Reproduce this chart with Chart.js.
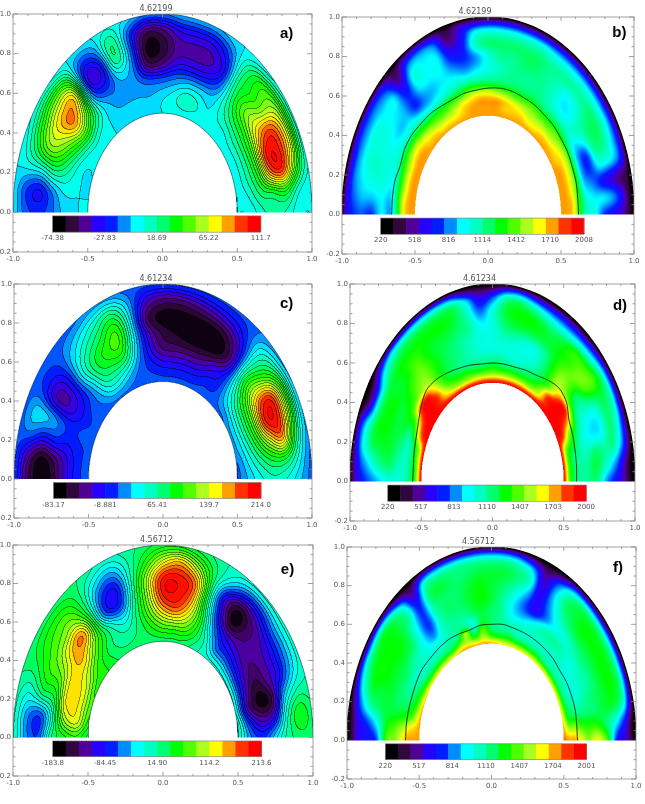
<!DOCTYPE html>
<html>
<head>
<meta charset="utf-8">
<title>Mantle convection snapshots</title>
<script src="https://cdn.jsdelivr.net/npm/chart.js@4"></script>
<style>
    html, body { margin: 0; background: #fff; }
    #page { position: relative; width: 645px; height: 804px; overflow: hidden; }
    canvas { position: absolute; }
</style>
</head>
<body>
<div id="page"></div>
<script>
// Radii of the polar grid, inner wall to outer wall
const flowRadii = [0.5, 0.58, 0.67, 0.75, 0.83, 0.92, 1.0];
const tempRadii = [0.5, 0.54, 0.58, 0.62, 0.67, 0.73, 0.8, 0.87, 0.93, 0.97, 1.0];

// Each row runs from theta = 180 (left) to theta = 0 (right).
// Numbers are colour table positions, 0 = low end of the bar, 15 = high end.
const flowA = [
    [6,6,6,6,6,6,6,6,6,6,6,6,6,6,6,6,6,6,6,6,6,6,6,6,6],
    [6,6,6,6,6.5,7,6.5,6,5.5,5.5,5.5,5.5,6,6.5,7.5,7,6,6.5,6.5,7,7,7,7,6.5,6],
    [5.5,6,7,8,9.5,11,9,6,5,5,5,4.5,4.5,5,5.5,5.5,5.5,7,8.5,9,9.5,9.5,9,8,7],
    [4.5,4.5,7.5,10,11.5,14,11,4,3.5,6,5,1,1.5,3,3,3,4,7.5,10,11.5,13,15,13.5,8,7.5],
    [4,3,6.5,10.5,12,13,13,2.5,2.5,8.5,5,0,0.5,2,2,2,3,8,9,10.5,14.5,15,15,9,7],
    [4.5,4,6.5,8,9,10,9.5,4,4.5,8.5,4.5,1,1.5,3,3,3,4.5,7.5,9.5,10.5,11.5,12,10,6.5,6],
    [6,6,6,6,6.5,6.5,6,6,6,6.5,6,5,5,5.5,5.5,5.5,6,6,6,6.5,6.5,6.5,6.5,6,6]
];
const flowC = [
    [4.5,4.5,4.5,4.5,4.5,4.5,4.5,4.5,4.5,4.5,4.5,4.5,4.5,4.5,4.5,4.5,4.5,4.5,4.5,4.5,5,5,5,4.5,4.5],
    [4,4,4,4.5,4,4.5,5,6.5,6.5,5.5,4.5,4,3.5,3.5,3.5,3.5,4,4,5.5,6.5,7,7,6.5,6,5.5],
    [2.5,2.5,3.5,4,3,3.5,5.5,8,8.5,8.5,5.5,3,1.5,1.5,1.5,1.5,2.5,3.5,6.5,9,10,10,9,7.5,6.5],
    [0.5,1,4,5,2,3,6.5,8.5,9.5,10,6,2.5,1,0.5,0,0,0,2,7.5,11,14,15,11.5,8.5,7],
    [0,0,3.5,6,2,3,6,7.5,8.5,10,6,1,0,0,0,0,0.5,2.5,7,10,15,15,14,8.5,6.5],
    [1.5,2,5,6,4,4,5,6,7,8,5.5,2.5,1.5,1.5,2,2.5,3,4,6.5,8,10,10,8,6.5,5.5],
    [4.5,4.5,4.5,4.5,4.5,4.5,4.5,4.5,5,5,4.5,4.5,4.5,4.5,4.5,4.5,4.5,4.5,5,5,5,5,5,4.5,4.5]
];
const flowE = [
    [8,9,9.5,9.5,9,9,9,8.5,8,8,8,8,8,8,8,7.5,7,7,7,7,7,7,7,7.5,7.5],
    [9.5,12,12,12,11.5,10,9,8,7.5,7.5,8,9,10,10,10,8.5,7,4.5,4.5,4,3.5,3,2,4,5],
    [8.5,11,12.5,12.5,12.5,13,11,9,7,6,8,10.5,13,14,12,9,5,3,2.5,2,1.5,0.5,0,2,4],
    [8,6.5,8,9.5,11,13,14,8.5,3.5,3.5,7.5,11,15,15,13.5,8,3.5,0,1.5,2,2,2,0.5,3,6],
    [4,3.5,8,9.5,10,10.5,11,8,4,3,7,11,15,15,14,8,2.5,0,1.5,2.5,3,3,5.5,7,7.5],
    [5,5,6.5,8,9,9.5,9.5,8,6,5,7,9,11.5,13,10.5,8,6,4,4,5,5,5.5,7.5,9.5,8],
    [7.5,7.5,7.5,8,8,8,8,8,7.5,7,7.5,8,8.5,8.5,8,7.5,7,7,7,7,7,7,7.5,8,8]
];
const tempB = [
    [13,13,13,13,13,13,13,13,13,13,13,13,13,13,13,13,13,13,13,13,13,13,13,13,13,13,13,13,13,13,13],
    [13,13,13,13,13,13,13,12.5,12.5,12,12,12,12.5,13,13,13,13,12.5,12.5,12.5,12,12,12.5,12.5,12.5,12.5,13,13,13,13,13],
    [12,12,11.5,11.5,11.5,12,12,11.5,11,10.5,10.5,11,12,12.5,13,13,13,12.5,12,11.5,11,11,11,11,11.5,12,12,12,12,12.5,12.5],
    [8.5,9,9,9,9.5,10,10,9.5,9,9,9,9.5,10,11,11.5,11.5,11,10.5,10,10,10,9.5,9.5,10,10,10,10,10,10,10,10],
    [5,5.5,6,6.5,7,7,7,7,6.5,6,6.5,7,7.5,8,8,8,8,8,8,8,8,7.5,7.5,7.5,7,6,5.5,5.5,6,7,7],
    [6,6,6.5,6.5,6.5,6,5.5,5.5,4,5,5.5,6,6,5.5,6,6.5,7,7.5,7.5,7.5,7.5,7,6,6,7,6,4,4,5,6,6.5],
    [4,5.5,6.5,7,6.5,6.5,6,5.5,4,6,6,6,4.5,4,5,6.5,7.5,7.5,8,8,7.5,7,6,6.5,7.5,8,7.5,6,3.5,6,4],
    [4.5,5.5,6,6.5,6.5,6.5,6,6,3,6.5,6,6,3,3.5,7,8,8,8,8,8,7.5,7.5,7.5,7.5,8,8,7.5,6,2.5,5,3],
    [4,4.5,5,5,5,5,5,4.5,1.5,5,5.5,5,1.5,3,6,6.5,6.5,6.5,6.5,6.5,6,6,6,6,6,6,5.5,5,1.5,3,2],
    [3,3,3,3,3.5,3.5,3.5,3,1,3,3.5,3,1,2.5,3,3.5,3.5,3.5,3.5,3.5,3.5,3.5,3.5,3.5,3.5,3.5,3.5,3,1,1,1],
    [0.5,0.5,0.5,0.5,0.5,0.5,0.5,0.5,0,0.5,0.5,0.5,0,0.5,0.5,0.5,0.5,0.5,0.5,0.5,0.5,0.5,0.5,0.5,0.5,0.5,0.5,0.5,0,0,0]
];
const tempD = [
    [15,15,15,15,15,15,15,15,15,15,15,15,15,15,15,15,15,15,15,15,15,15,15,15,15,15,15,15,15,15,15],
    [10,10,10.5,11,14,15,15,15,14,12.5,11.5,11,11,11,11,11,11,11,11,11,11,12,14,15,15,15,14,10.5,10,10,10],
    [8,8,8,8.5,11,13,15,15,14,11,9.5,9,9,8.5,8.5,9,8.5,8.5,8.5,8.5,9,10.5,14,15,15,14,11,9,8,8,8],
    [7,7,7,7,8,10,14,15,12.5,10,8.5,8,7.5,7.5,7.5,7.5,7.5,7,7,7.5,8,9,11,14,15,12,9,8,7.5,7.5,7.5],
    [6.5,7,7.5,8,8.5,9,10,11,11,9.5,8.5,8,7.5,7,6.5,6.5,6.5,6.5,6.5,6.5,7.5,9,11,11,9.5,8,7,6.5,7,7.5,7.5],
    [6.5,8,8.5,8.5,8.5,8.5,9,10,10.5,9.5,8.5,8,7.5,7,6.5,6.5,7,7,6.5,6.5,7.5,9,10.5,10,8,7,6,6,8,8.5,8],
    [5.5,7.5,8.5,9,9,9,8.5,9,10,9,8.5,8.5,8,7.5,6,6.5,8,8.5,8.5,8.5,8.5,9,9.5,10.5,10,7.5,6,6,7.5,7,5],
    [4.5,6,8,8.5,8,8,8.5,9,9,9,9,9,8.5,7,4.5,6.5,8.5,9,9,8.5,8,8.5,9.5,9.5,10,8.5,8,8,7.5,5,3.5],
    [3.5,4.5,6,6,3.5,3.5,6.5,7.5,8,8,8,8,8,6,3,4.5,7.5,8,7,6,5.5,5.5,6,6.5,7.5,7.5,7,6,5,2.5,2],
    [2,2.5,3.5,3.5,1,1,3.5,5,5,5,5,5,4.5,2.5,1.5,2,4,4.5,3.5,3,3,3,3,3.5,4,4,3.5,3,2,0.5,0.5],
    [0.5,0.5,0.5,0.5,0,0,0.5,0.5,0.5,0.5,0.5,0.5,0.5,0,0,0,0.5,0.5,0.5,0,0,0,0,0.5,0.5,0.5,0.5,0,0,0,0]
];
const tempF = [
    [13,13,13,13,12.5,12.5,12,12,12,12,12.5,13,13,13,13,13,12.5,12,12,12,12,12,12,12,12,12,12,12,12.5,13,13.5],
    [13,12.5,11,10,9.5,9,8.5,8.5,8.5,8.5,8.5,10,11,9.5,11,9.5,9,9,8.5,8.5,8.5,8.5,8,8,8,8,8,8.5,9,11,13],
    [13,12,9.5,8.5,8,7.5,7,7,7,7,7.5,7.5,11,7,10,8,7.5,7.5,7,7,7,7,7,7,7,7,7,7.5,8.5,11,13],
    [12,11,9,8,7.5,7,7,7,6.5,6.5,7,7.5,7.5,6.5,8.5,8,7.5,7,7,7,7,7,7,7,6.5,6.5,6.5,7,8,10,12],
    [10.5,10,8.5,8,8,8,7.5,7,6,5,7,7.5,7.5,8,8.5,8,7.5,6,5.5,6,7,7.5,7.5,7,6.5,7,7,7.5,8,9.5,10.5],
    [10,9,8.5,8.5,8.5,8.5,8.5,8,6,4,7,8,8,8.5,9,8.5,7.5,6,4.5,3,4.5,6,6.5,7,7.5,7.5,7.5,8,8,9.5,12],
    [4,6,8,8.5,9,9,9,8.5,6.5,4,7.5,8,8,8.5,9,8.5,8,7,5.5,3,5,7,8,8.5,8.5,8.5,8.5,8.5,8.5,8,10],
    [3.5,4,7,8.5,9,9,9,8.5,7.5,3.5,8,8.5,8,8,8.5,8.5,8.5,8,7,2.5,5.5,8,8.5,9,9,9,9,9,8.5,6,3.5],
    [3,3,4.5,6.5,7.5,8,8.5,8,6,2,7,7.5,7.5,7.5,7.5,7.5,7.5,7,5.5,2,4.5,7,8,8,8,8,8,8,7,3.5,2.5],
    [1,1,2,3.5,4.5,4.5,5,4.5,2.5,1,4,4.5,4.5,4.5,4.5,4.5,4.5,4,2.5,1,2,4,4.5,4.5,4.5,4.5,4.5,4.5,3.5,1,1],
    [0,0,0,0.5,0.5,0.5,0.5,0.5,0,0,0.5,0.5,0.5,0.5,0.5,0.5,0.5,0.5,0,0,0,0.5,0.5,0.5,0.5,0.5,0.5,0.5,0.5,0,0]
];

// Radius of the dark boundary curve every 7.5 degrees, left to right
const boundaryB = [.66,.66,.66,.65,.66,.66,.65,.645,.635,.63,.635,.635,.64,.645,.645,.64,.64,.635,.635,.63,.63,.625,.625,.62,.62];
const boundaryD = [.56,.56,.57,.58,.60,.63,.655,.65,.635,.62,.61,.60,.60,.60,.60,.61,.62,.645,.665,.655,.62,.61,.60,.595,.59];
const boundaryF = [.595,.595,.595,.595,.60,.605,.60,.60,.60,.595,.59,.60,.60,.605,.60,.60,.60,.60,.60,.595,.60,.60,.60,.595,.595];

// Colour bar text
const barA = ['-74.38', '-27.83', '18.69', '65.22', '111.7'];
const barB = ['220', '518', '816', '1114', '1412', '1710', '2008'];
const barC = ['-83.17', '-8.881', '65.41', '139.7', '214.0'];
const barD = ['220', '517', '813', '1110', '1407', '1703', '2000'];
const barE = ['-183.8', '-84.45', '14.90', '114.2', '213.6'];
const barF = ['220', '517', '814', '1110', '1407', '1704', '2001'];

// The sixteen colours of the table
const palette = [
    [0,0,0], [48,8,60], [80,0,150], [40,0,255], [0,30,255], [0,140,255], [0,255,255], [0,255,195],
    [0,255,110], [0,255,0], [80,255,0], [170,255,30], [255,255,0], [255,160,0], [255,50,0], [255,0,0]
];
const arcAngles = [];
for (let a = 180; a >= 0; a -= 3) arcAngles.push(a);

const panels = [
    { letter: 'a)', title: '4.62199', rows: flowA, radii: flowRadii, bar: barA, box: [13, 14, 312, 252], mark: [0.83, 0.90], contour: true },
    { letter: 'b)', title: '4.62199', rows: tempB, radii: tempRadii, bar: barB, box: [342, 17, 634, 254], mark: [0.90, 0.92], boundary: boundaryB },
    { letter: 'c)', title: '4.61234', rows: flowC, radii: flowRadii, bar: barC, box: [14, 284, 312, 518], mark: [0.83, 0.90], contour: true },
    { letter: 'd)', title: '4.61234', rows: tempD, radii: tempRadii, bar: barD, box: [350, 284, 635, 521], mark: [0.895, 0.89], boundary: boundaryD },
    { letter: 'e)', title: '4.56712', rows: flowE, radii: flowRadii, bar: barE, box: [13, 545, 313, 776], mark: [0.83, 0.87], contour: true },
    { letter: 'f)', title: '4.56712', rows: tempF, radii: tempRadii, bar: barF, box: [347, 547, 636, 779], mark: [0.875, 0.89], boundary: boundaryF }
];

const TEXT_FONT = '7px "DejaVu Sans"';

// Cubic through four neighbours; soft blends in a B-spline to calm the curve
function spline(a, b, c, d, t, soft) {
    const cr = b + 0.5 * t * (c - a + t * (2 * a - 5 * b + 4 * c - d + t * (3 * (b - c) + d - a)));
    const u = 1 - t;
    const bs = (u * u * u * a + (3 * t * t * t - 6 * t * t + 4) * b + (-3 * t * t * t + 3 * t * t + 3 * t + 1) * c + t * t * t * d) / 6;
    return cr + (bs - cr) * soft;
}

function sampleField(rows, radii, r, theta, soft) {
    let i = 0;
    while (i < radii.length - 2 && r > radii[i + 1]) i++;
    const tr = (r - radii[i]) / (radii[i + 1] - radii[i]);
    const n = rows[0].length - 1;
    const pos = (180 - theta) / 180 * n;
    const j = Math.min(Math.floor(pos), n - 1);
    const tc = pos - j;
    const vals = [];
    for (let k = i - 1; k <= i + 2; k++) {
        const row = rows[Math.max(0, Math.min(rows.length - 1, k))];
        vals.push(spline(row[Math.max(0, j - 1)], row[j], row[j + 1], row[Math.min(n, j + 2)], tc, soft));
    }
    return Math.max(0, Math.min(15, spline(vals[0], vals[1], vals[2], vals[3], tr, soft)));
}

function levelColor(v) {
    const i = Math.min(14, Math.floor(v));
    const t = v - i;
    const a = palette[i], b = palette[i + 1];
    return [a[0] + (b[0] - a[0]) * t, a[1] + (b[1] - a[1]) * t, a[2] + (b[2] - a[2]) * t];
}

// Paints the field inside the half ring, inverting the chart's own scales per pixel
const fieldPlugin = {
    id: 'field',
    beforeDatasetsDraw(chart) {
        const panel = chart.config.options.panel;
        const area = chart.chartArea;
        const xs = chart.scales.x, ys = chart.scales.y;
        const SS = 2;
        const w = Math.ceil(area.width) * SS, h = Math.ceil(area.height) * SS;
        const off = document.createElement('canvas');
        off.width = w; off.height = h;
        const octx = off.getContext('2d');
        const img = octx.createImageData(w, h);
        const step = 0.6;
        const soft = panel.contour ? 0.5 : 0.15;
        const bands = new Float32Array(w * h).fill(-1);
        for (let py = 0; py < h; py++) {
            const y = ys.getValueForPixel(area.top + (py + 0.5) / SS);
            if (y < 0) continue;
            for (let px = 0; px < w; px++) {
                const x = xs.getValueForPixel(area.left + (px + 0.5) / SS);
                const r = Math.hypot(x, y);
                if (r < 0.5 || r > 1) continue;
                const theta = Math.atan2(y, x) * 180 / Math.PI;
                let v = sampleField(panel.rows, panel.radii, r, theta, soft);
                if (panel.contour) {
                    const band = Math.floor(v / step);
                    bands[py * w + px] = band;
                    v = Math.min(15, (band + 0.5) * step);
                }
                const c = levelColor(v);
                const o = (py * w + px) * 4;
                img.data[o] = c[0]; img.data[o + 1] = c[1]; img.data[o + 2] = c[2]; img.data[o + 3] = 255;
            }
        }
        if (panel.contour) {
            // contour lines sit where the banded value changes between neighbours
            for (let py = 0; py < h - 1; py++) {
                for (let px = 0; px < w - 1; px++) {
                    const q = py * w + px;
                    if (bands[q] < 0) continue;
                    const right = bands[q + 1], below = bands[q + w];
                    if ((right >= 0 && right !== bands[q]) || (below >= 0 && below !== bands[q])) {
                        const o = q * 4;
                        img.data[o] *= 0.15; img.data[o + 1] *= 0.15; img.data[o + 2] *= 0.15;
                    }
                }
            }
        }
        octx.putImageData(img, 0, 0);
        chart.ctx.drawImage(off, area.left, area.top, w / SS, h / SS);
    }
};

// Box with inward ticks on all four sides, the colour bar and the panel letter
const framePlugin = {
    id: 'frame',
    afterDatasetsDraw(chart) {
        const panel = chart.config.options.panel;
        const ctx = chart.ctx;
        const area = chart.chartArea;
        const xs = chart.scales.x, ys = chart.scales.y;
        ctx.save();

        const x0 = xs.getPixelForValue(-0.735), x1 = xs.getPixelForValue(0.657);
        const y0 = ys.getPixelForValue(-0.018), y1 = ys.getPixelForValue(-0.10);
        const bandW = (x1 - x0) / 16;
        palette.forEach((c, i) => {
            ctx.fillStyle = `rgb(${c[0]},${c[1]},${c[2]})`;
            ctx.fillRect(x0 + i * bandW, y0, bandW + 0.5, y1 - y0);
        });
        ctx.strokeStyle = '#777';
        ctx.lineWidth = 0.6;
        ctx.strokeRect(x0, y0, x1 - x0, y1 - y0);

        ctx.font = TEXT_FONT;
        ctx.fillStyle = '#555';
        ctx.textAlign = 'center';
        ctx.textBaseline = 'middle';
        panel.bar.forEach((label, i) => {
            ctx.fillText(label, x0 + (x1 - x0) * i / (panel.bar.length - 1), ys.getPixelForValue(-0.132));
        });

        ctx.strokeStyle = '#8a8a8a';
        ctx.lineWidth = 0.8;
        ctx.strokeRect(area.left, area.top, area.width, area.height);
        ctx.beginPath();
        for (let i = -10; i <= 10; i++) {
            const px = xs.getPixelForValue(i / 10);
            const len = i % 5 === 0 ? 4 : 2;
            ctx.moveTo(px, area.bottom); ctx.lineTo(px, area.bottom - len);
            ctx.moveTo(px, area.top); ctx.lineTo(px, area.top + len);
        }
        for (let i = -4; i <= 20; i++) {
            const py = ys.getPixelForValue(i / 20);
            const len = i % 4 === 0 ? 5 : 2.5;
            ctx.moveTo(area.left, py); ctx.lineTo(area.left + len, py);
            ctx.moveTo(area.right, py); ctx.lineTo(area.right - len, py);
        }
        ctx.stroke();

        ctx.font = 'bold 15px "Liberation Sans"';
        ctx.fillStyle = '#000';
        ctx.fillText(panel.letter, xs.getPixelForValue(panel.mark[0]), ys.getPixelForValue(panel.mark[1]));
        ctx.restore();
    }
};

function polarLine(radius, angles) {
    return angles.map((a, i) => {
        const r = Array.isArray(radius) ? radius[i] : radius;
        return { x: r * Math.cos(a * Math.PI / 180), y: r * Math.sin(a * Math.PI / 180) };
    });
}

function gridNodes(panel) {
    const nodes = [];
    panel.rows.forEach((row, i) => {
        row.forEach((level, j) => {
            const a = (180 - 180 * j / (row.length - 1)) * Math.PI / 180;
            nodes.push({ x: panel.radii[i] * Math.cos(a), y: panel.radii[i] * Math.sin(a), level });
        });
    });
    return nodes;
}

function tickLabel(v) {
    return (Math.abs(v) < 1e-6 ? 0 : v).toFixed(1);
}

const page = document.getElementById('page');

panels.forEach(panel => {
    const [left, top, right, bottom] = panel.box;
    const marginL = Math.min(left, 26), marginR = 12, marginT = 12, marginB = 18;
    const canvas = document.createElement('canvas');
    canvas.width = right - left + marginL + marginR;
    canvas.height = bottom - top + marginT + marginB;
    canvas.style.left = (left - marginL) + 'px';
    canvas.style.top = (top - marginT) + 'px';
    page.appendChild(canvas);

    const lineStyle = { type: 'line', pointRadius: 0, fill: false, parsing: false };
    const datasets = [
        { type: 'scatter', label: 'field', data: gridNodes(panel), pointRadius: 0, showLine: false }
    ];
    if (panel.boundary) {
        const angles = panel.boundary.map((_, i) => 180 - 7.5 * i);
        datasets.push({ ...lineStyle, label: 'boundary', data: polarLine(panel.boundary, angles), borderColor: 'rgba(0,30,30,0.85)', borderWidth: 1, tension: 0.3 });
        datasets.push({ ...lineStyle, label: 'outer wall', data: polarLine(1, arcAngles), borderColor: '#000', borderWidth: 1.2 });
    } else {
        datasets.push({ ...lineStyle, label: 'outer wall', data: polarLine(1, arcAngles), borderColor: 'rgba(0,30,60,0.7)', borderWidth: 0.8 });
        datasets.push({ ...lineStyle, label: 'inner wall', data: polarLine(0.5, arcAngles), borderColor: 'rgba(0,30,60,0.7)', borderWidth: 0.8 });
    }

    new Chart(canvas, {
        type: 'scatter',
        data: { datasets },
        plugins: [fieldPlugin, framePlugin],
        options: {
            panel,
            responsive: false,
            animation: false,
            events: [],
            layout: { autoPadding: false, padding: { left: 0, right: marginR, top: 0, bottom: 0 } },
            plugins: {
                legend: { display: false },
                tooltip: { enabled: false },
                title: {
                    display: true,
                    text: panel.title,
                    color: '#555',
                    font: { family: 'DejaVu Sans', size: 8, weight: 'normal', lineHeight: 1.25 },
                    padding: { top: 2, bottom: 0 }
                }
            },
            scales: {
                x: {
                    type: 'linear',
                    min: -1,
                    max: 1,
                    grid: { display: false, drawTicks: false },
                    border: { display: false },
                    afterFit(scale) { scale.height = marginB; },
                    ticks: {
                        stepSize: 0.5,
                        padding: 3,
                        maxRotation: 0,
                        color: '#555',
                        font: { family: 'DejaVu Sans', size: 7 },
                        callback: tickLabel
                    }
                },
                y: {
                    type: 'linear',
                    min: -0.2,
                    max: 1,
                    grid: { display: false, drawTicks: false },
                    border: { display: false },
                    afterFit(scale) { scale.width = marginL; },
                    ticks: {
                        stepSize: 0.2,
                        padding: 2,
                        color: '#555',
                        font: { family: 'DejaVu Sans', size: 7 },
                        callback: tickLabel
                    }
                }
            }
        }
    });
});
</script>
</body>
</html>
